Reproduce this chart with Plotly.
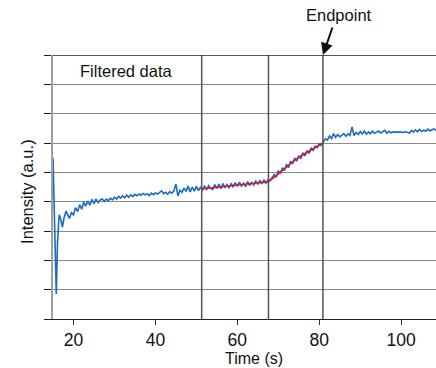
import plotly.graph_objects as go

# ---- data ----
time_early = [15.0, 15.4, 15.8, 16.1, 16.5, 16.9, 17.3, 17.7, 18.2, 18.6]
intensity_early = [5.5, 2.8, 0.85, 2.6, 3.55, 3.4, 3.13, 3.45, 3.68, 3.55]

time_main = [
    19.0, 19.5, 20.0, 20.5, 21.0, 21.5, 22.0, 22.5, 23.0, 23.5,
    24.0, 24.5, 25.0, 25.5, 26.0, 26.5, 27.0, 27.5, 28.0, 28.5,
    29.0, 29.5, 30.0, 30.5, 31.0, 31.5, 32.0, 32.5, 33.0, 33.5,
    34.0, 34.5, 35.0, 35.5, 36.0, 36.5, 37.0, 37.5, 38.0, 38.5,
    39.0, 39.5, 40.0, 40.5, 41.0, 41.5, 42.0, 42.5, 43.0, 43.5,
    44.0, 44.5, 45.0, 45.5, 46.0, 46.5, 47.0, 47.5, 48.0, 48.5,
    49.0, 49.5, 50.0, 50.5, 51.0, 51.5, 52.0, 52.5, 53.0, 53.5,
    54.0, 54.5, 55.0, 55.5, 56.0, 56.5, 57.0, 57.5, 58.0, 58.5,
    59.0, 59.5, 60.0, 60.5, 61.0, 61.5, 62.0, 62.5, 63.0, 63.5,
    64.0, 64.5, 65.0, 65.5, 66.0, 66.5, 67.0, 67.5, 68.0, 68.5,
    69.0, 69.5, 70.0, 70.5, 71.0, 71.5, 72.0, 72.5, 73.0, 73.5,
    74.0, 74.5, 75.0, 75.5, 76.0, 76.5, 77.0, 77.5, 78.0, 78.5,
    79.0, 79.5, 80.0, 80.5, 81.0, 81.5, 82.0, 82.5, 83.0, 83.5,
    84.0, 84.5, 85.0, 85.5, 86.0, 86.5, 87.0, 87.5, 88.0, 88.5,
    89.0, 89.5, 90.0, 90.5, 91.0, 91.5, 92.0, 92.5, 93.0, 93.5,
    94.0, 94.5, 95.0, 95.5, 96.0, 96.5, 97.0, 97.5, 98.0, 98.5,
    99.0, 99.5, 100.0, 100.5, 101.0, 101.5, 102.0, 102.5, 103.0, 103.5,
    104.0, 104.5, 105.0, 105.5, 106.0, 106.5, 107.0, 107.5, 108.0, 108.5,
]
intensity_main = [
    3.43, 3.62, 3.55, 3.80, 3.66, 3.90, 3.74, 3.98, 3.85, 4.02,
    3.88, 4.08, 3.93, 4.09, 3.97, 4.05, 4.10, 4.01, 4.09, 4.03,
    4.12, 4.06, 4.15, 4.09, 4.18, 4.12, 4.20, 4.13, 4.22, 4.15,
    4.23, 4.18, 4.25, 4.20, 4.26, 4.22, 4.28, 4.23, 4.27, 4.21,
    4.29, 4.24, 4.30, 4.26, 4.31, 4.37, 4.27, 4.32, 4.25, 4.34,
    4.29, 4.36, 4.60, 4.20, 4.39, 4.32, 4.46, 4.35, 4.53, 4.33,
    4.50, 4.36, 4.52, 4.38, 4.49, 4.40, 4.53, 4.42, 4.55, 4.45,
    4.42, 4.58, 4.45, 4.60, 4.44, 4.62, 4.47, 4.58, 4.46, 4.63,
    4.49, 4.65, 4.52, 4.67, 4.53, 4.63, 4.51, 4.69, 4.55, 4.66,
    4.57, 4.70, 4.59, 4.73, 4.61, 4.74, 4.63, 4.75, 4.72, 4.83,
    4.92, 4.83, 5.06, 4.95, 5.16, 5.06, 5.28, 5.16, 5.38, 5.29,
    5.49, 5.38, 5.57, 5.46, 5.67, 5.56, 5.74, 5.64, 5.82, 5.75,
    5.89, 5.84, 5.97, 5.92, 6.02, 6.14, 6.10, 6.24, 6.15, 6.32,
    6.19, 6.29, 6.21, 6.27, 6.32, 6.23, 6.31, 6.26, 6.55, 6.25,
    6.36, 6.29, 6.39, 6.31, 6.41, 6.30, 6.38, 6.32, 6.40, 6.33,
    6.36, 6.41, 6.34, 6.39, 6.43, 6.33, 6.40, 6.35, 6.38, 6.37,
    6.38, 6.37, 6.37, 6.36, 6.38, 6.36, 6.34, 6.43, 6.37, 6.45,
    6.38, 6.46, 6.39, 6.44, 6.40, 6.47, 6.41, 6.45, 6.48, 6.43,
]

fit_time = [51.3, 54.0, 57.0, 60.0, 63.0, 66.0, 67.6, 68.5, 70.0, 71.5, 73.0, 74.5, 76.0, 77.5, 79.0, 80.9]
fit_intensity = [4.43, 4.48, 4.53, 4.57, 4.61, 4.65, 4.68, 4.78, 4.96, 5.14, 5.31, 5.47, 5.60, 5.72, 5.84, 6.00]

boundaries = [51.3, 67.6, 80.9]
endpoint_time = 80.9
x_ticks = [20, 40, 60, 80, 100]
y_ticks = [0, 1, 2, 3, 4, 5, 6, 7, 8, 9]

FONT = "Liberation Sans, Arial, Helvetica, sans-serif"
TXT = 16.5

fig = go.Figure()
fig.add_trace(go.Scatter(
    x=time_early + time_main, y=intensity_early + intensity_main,
    mode="lines", line=dict(color="#1a6cc0", width=1.6), hoverinfo="skip",
))
fig.add_trace(go.Scatter(
    x=fit_time, y=fit_intensity, mode="lines",
    line=dict(color="#e8102a", width=1.6), hoverinfo="skip",
))

for b in boundaries:
    fig.add_shape(type="line", xref="x", yref="y", x0=b, x1=b, y0=0, y1=9,
                  line=dict(color="#555555", width=1.5), layer="above")

# top border line
fig.add_shape(type="line", xref="paper", yref="y", x0=0, x1=1, y0=9, y1=9,
              line=dict(color="#222222", width=1.3), layer="above")

fig.add_annotation(x=endpoint_time, y=9, xref="x", yref="y", text="",
                   showarrow=True, ax=10, ay=-29, arrowhead=2, arrowsize=1.2,
                   arrowwidth=2, arrowcolor="#111111")
fig.add_annotation(x=84.8, y=1.1515, xref="x", yref="paper", text="Endpoint",
                   showarrow=False, font=dict(size=TXT, color="#111111", family=FONT),
                   xanchor="center", yanchor="middle")
fig.add_annotation(x=0.193, y=0.9405, xref="paper", yref="paper", text="Filtered data",
                   showarrow=False, font=dict(size=TXT, color="#111111", family=FONT),
                   xanchor="center", yanchor="middle")
fig.add_annotation(x=0.525, y=-0.1485, xref="paper", yref="paper", text="Time (s)",
                   showarrow=False, font=dict(size=16, color="#111111", family=FONT),
                   xanchor="center", yanchor="middle", borderpad=0)
fig.add_annotation(x=-0.068, y=0.485, xref="paper", yref="paper", text="Intensity (a.u.)",
                   textangle=-90, showarrow=False,
                   font=dict(size=TXT, color="#111111", family=FONT),
                   xanchor="center", yanchor="middle")

fig.update_layout(
    width=436, height=368,
    margin=dict(l=53, r=0, t=55, b=49),
    paper_bgcolor="white", plot_bgcolor="white",
    showlegend=False,
    font=dict(family=FONT, color="#111111"),
)
fig.update_xaxes(
    range=[15, 108.5], tickvals=x_ticks, ticks="outside", ticklen=5,
    tickcolor="#333333", tickwidth=1.2, showgrid=False, zeroline=False,
    showline=True, linecolor="#222222", linewidth=1.3,
    tickfont=dict(size=17.5, color="#111111", family=FONT),
)
fig.update_yaxes(
    range=[0, 9], tickvals=y_ticks, ticks="outside", ticklen=7,
    tickcolor="#222222", tickwidth=1.2, showticklabels=False,
    showgrid=True, gridcolor="#8a8a8a", gridwidth=1, zeroline=False,
    showline=True, linecolor="#a0a0a0", linewidth=2,
)

fig.write_html("out.html")
